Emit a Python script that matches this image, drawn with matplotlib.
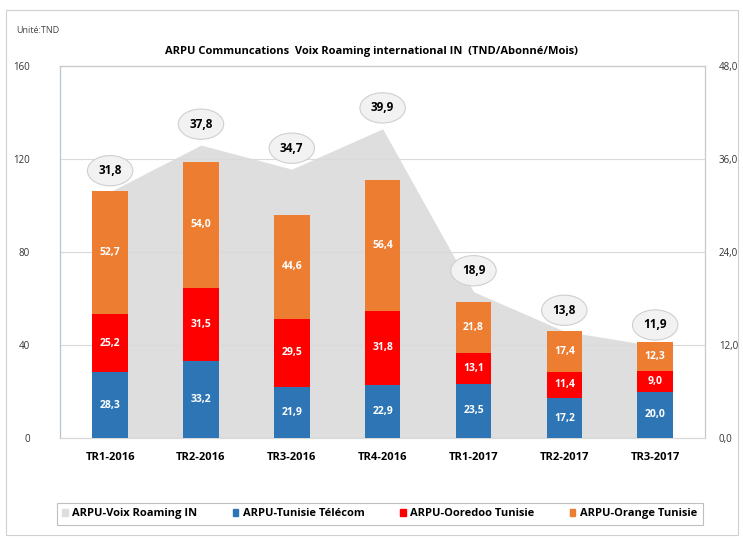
import numpy as np
import matplotlib.pyplot as plt
from matplotlib.patches import Rectangle, Ellipse

categories = ["TR1-2016", "TR2-2016", "TR3-2016", "TR4-2016", "TR1-2017", "TR2-2017", "TR3-2017"]
tunisie_telecom = [28.3, 33.2, 21.9, 22.9, 23.5, 17.2, 20.0]
ooredoo = [25.2, 31.5, 29.5, 31.8, 13.1, 11.4, 9.0]
orange = [52.7, 54.0, 44.6, 56.4, 21.8, 17.4, 12.3]
roaming_in = [31.8, 37.8, 34.7, 39.9, 18.9, 13.8, 11.9]

c_blue = "#2e75b6"
c_red = "#ff0000"
c_orange = "#ed7d31"
c_area = "#dedede"

plt.rcParams['font.family'] = ['Open Sans', 'DejaVu Sans']

def fr(v):
    return f"{v:.1f}".replace(".", ",")

fig = plt.figure(figsize=(7.43, 5.41), dpi=100)
# cadre du graphique
fig.patches.append(Rectangle((0.008, 0.012), 0.985, 0.97, transform=fig.transFigure,
                             fill=False, edgecolor="#d0d0d0", linewidth=0.8))

ax = fig.add_axes([0.081, 0.19, 0.868, 0.688])
ax2 = ax.twinx()
ax.set_zorder(ax2.get_zorder() + 1)
ax.patch.set_visible(False)

x = np.arange(len(categories))
w = 0.39

# aire (axe secondaire)
ax2.fill_between(x, roaming_in, 0, color=c_area, linewidth=0, zorder=1)
ax2.set_ylim(0, 48)
ax2.set_yticks([0, 12, 24, 36, 48])
ax2.set_yticklabels([fr(t) for t in [0, 12, 24, 36, 48]])

# barres empilées
b1 = np.array(tunisie_telecom)
b2 = np.array(ooredoo)
b3 = np.array(orange)
ax.bar(x, b1, w, color=c_blue, zorder=3)
ax.bar(x, b2, w, bottom=b1, color=c_red, zorder=3)
ax.bar(x, b3, w, bottom=b1 + b2, color=c_orange, zorder=3)

for i in range(len(x)):
    ax.text(x[i], b1[i] / 2, fr(b1[i]), ha="center", va="center", color="white",
            fontsize=7.5, fontweight="bold", zorder=5)
    ax.text(x[i], b1[i] + b2[i] / 2, fr(b2[i]), ha="center", va="center", color="white",
            fontsize=7.5, fontweight="bold", zorder=5)
    ax.text(x[i], b1[i] + b2[i] + b3[i] / 2, fr(b3[i]), ha="center", va="center", color="white",
            fontsize=7.5, fontweight="bold", zorder=5)
    top = roaming_in[i] * 160 / 48
    ax.add_patch(Ellipse((x[i], top + 9), 0.5, 13, fc="#f2f2f2", ec="#cfcfcf", lw=0.8, zorder=6))
    ax.text(x[i], top + 9, fr(roaming_in[i]), ha="center", va="center", color="black",
            fontsize=8.5, fontweight="bold", zorder=7)

ax.set_ylim(0, 160)
ax.set_xlim(-0.55, len(categories) - 0.45)
ax.set_yticks([0, 40, 80, 120, 160])
ax.yaxis.grid(True, color="#d9d9d9", linewidth=0.8)
ax.set_axisbelow(True)
ax.set_xticks(x)
ax.set_xticklabels(categories, fontsize=8, fontweight="bold")
ax.tick_params(axis="x", length=0, pad=10)
ax.tick_params(axis="y", length=0, labelsize=7, colors="#333333")
ax2.tick_params(axis="y", length=0, labelsize=7, colors="#333333", pad=10)
ax.set_yticklabels(["0", "40", "80", "120", "160"])
ax.yaxis.set_tick_params(pad=22)
for a in (ax, ax2):
    a.spines["top"].set_visible(True)
    a.spines["top"].set_color("#c8c8c8")
    a.spines["left"].set_color("#b8c4d0")
    a.spines["right"].set_color("#c8c8c8")
    a.spines["bottom"].set_color("#d9d9d9")

fig.text(0.022, 0.943, "Unité:TND", fontsize=6.5, color="#444444", va="center")
fig.text(0.5, 0.905, "ARPU Communcations  Voix Roaming international IN  (TND/Abonné/Mois)",
         ha="center", va="center", fontsize=8, fontweight="bold")

handles = [Rectangle((0, 0), 1, 1, color=c_area), Rectangle((0, 0), 1, 1, color=c_blue),
           Rectangle((0, 0), 1, 1, color=c_red), Rectangle((0, 0), 1, 1, color=c_orange)]
labels = ["ARPU-Voix Roaming IN", "ARPU-Tunisie Télécom", "ARPU-Ooredoo Tunisie", "ARPU-Orange Tunisie"]
leg = fig.legend(handles, labels, loc="center", bbox_to_anchor=(0.511, 0.05), ncol=4,
                 prop={"size": 8, "weight": "bold"}, handlelength=0.5, handleheight=0.5,
                 handletextpad=0.4, columnspacing=3.2, frameon=True, fancybox=False,
                 borderpad=0.5)
leg.get_frame().set_edgecolor("#b0b0b0")
leg.get_frame().set_linewidth(0.8)

plt.savefig("out.png", dpi=100)
